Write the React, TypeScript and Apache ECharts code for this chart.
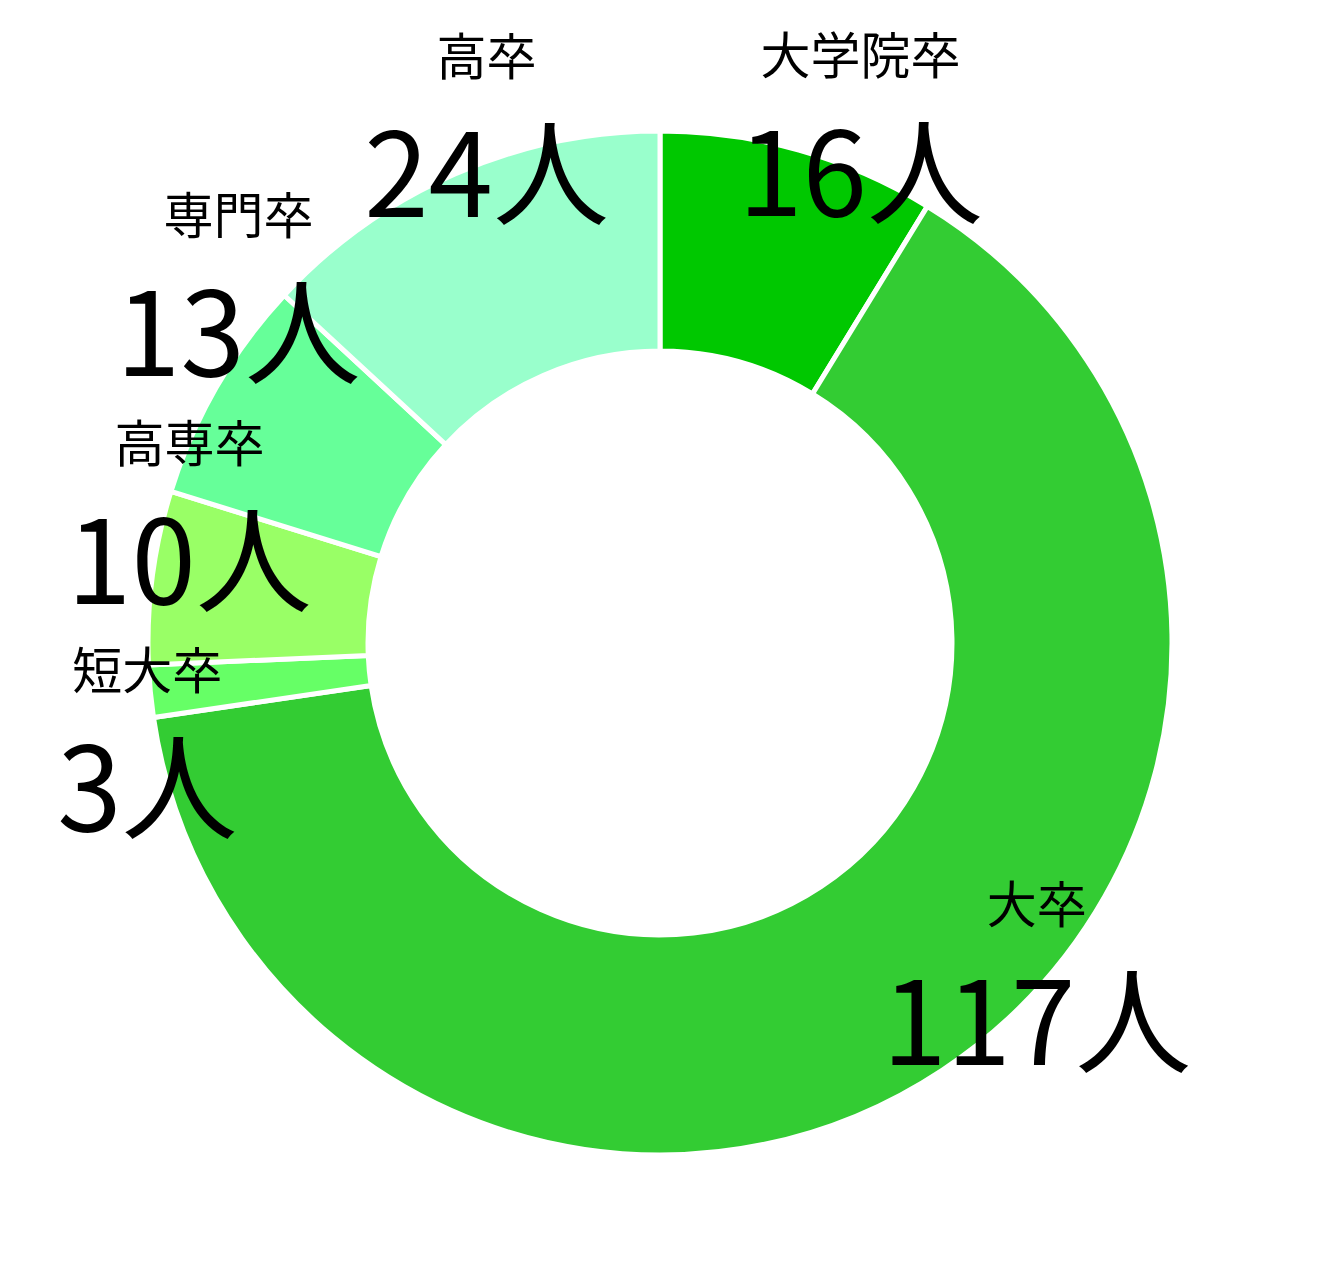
import React, { useEffect, useRef } from "react";
import * as echarts from "echarts";

const categories = ["大学院卒", "大卒", "短大卒", "高専卒", "専門卒", "高卒"];
const counts = [16, 117, 3, 10, 13, 24];
const colors = ["#00c800", "#33cc33", "#66ff66", "#99ff66", "#66ff99", "#99ffcc"];
const unit = "人";
// label nudges (px) relative to the slice's mid-angle anchor
const labelShift: [number, number][] = [
  [56, -20],
  [83, -129],
  [18, 32],
  [58, -77],
  [40, -107],
  [40, -44],
];

const FONT = '"Noto Sans CJK JP", "Noto Sans", sans-serif';

export default function App() {
  const ref = useRef<HTMLDivElement>(null);
  useEffect(() => {
    if (!ref.current) return;
    const chart = echarts.init(ref.current, undefined, { renderer: "svg" });
    const data = categories.map((name, i) => ({
      name,
      value: counts[i],
      itemStyle: { color: colors[i] },
    }));
    const labelData = categories.map((name, i) => ({ name, value: counts[i] }));
    chart.setOption({
      animation: false,
      backgroundColor: "#ffffff",
      series: [
        {
          type: "pie",
          center: [660, 643],
          radius: [292, 512],
          startAngle: 90,
          clockwise: true,
          silent: true,
          itemStyle: { borderColor: "#ffffff", borderWidth: 5 },
          label: { show: false },
          labelLine: { show: false },
          data,
        },
        {
          type: "pie",
          center: [660, 643],
          radius: [510, 550],
          startAngle: 90,
          clockwise: true,
          silent: true,
          z: 5,
          itemStyle: { color: "rgba(0,0,0,0)", borderWidth: 0 },
          labelLine: { show: false },
          label: {
            show: true,
            position: "inside",
            rotate: 0,
            fontFamily: FONT,
            color: "#000000",
            formatter: (p: any) => `{n|${p.name}}\n{v|${p.value}${unit}}`,
            rich: {
              n: { fontSize: 50, lineHeight: 110, fontFamily: FONT, color: "#000000", align: "center" },
              v: { fontSize: 116, lineHeight: 116, fontFamily: FONT, color: "#000000", align: "center" },
            },
          },
          labelLayout: (params: any) => ({
            dx: labelShift[params.dataIndex][0],
            dy: labelShift[params.dataIndex][1],
          }),
          data: labelData,
        },
      ],
    });
    return () => chart.dispose();
  }, []);
  return (
    <div
      ref={ref}
      style={{ position: "absolute", left: 0, top: 0, width: 1319, height: 1287 }}
    />
  );
}
